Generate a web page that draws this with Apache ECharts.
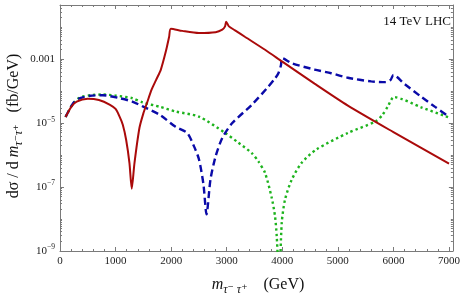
<!DOCTYPE html>
<html>
<head>
<meta charset="utf-8">
<script src="https://cdn.jsdelivr.net/npm/echarts@6/dist/echarts.min.js"></script>
<style>
html,body{margin:0;padding:0;background:#fff;}
#chart{width:463px;height:298px;}
</style>
</head>
<body>
<div id="chart"></div>
<script>
// ---- data ----
const redX = [100,200,300,500,700,900,1000,1070,1130,1190,1250,1291,1340,1430,1500,1560,1650,1730,1815,1905,1964,1995,2200,2500,2800,2920,2970,2990,3040,3150,3333,3690,4000,4580,5180,6000,7000];
const redY = [1.55e-5,3.16e-5,4.68e-5,5.75e-5,5.25e-5,3.72e-5,2.75e-5,1.62e-5,8.9e-6,3.0e-6,5.6e-7,8.9e-8,5.6e-7,7.1e-6,2.0e-5,4.0e-5,1.12e-4,2.24e-4,4.7e-4,1.74e-3,5.0e-3,8.9e-3,7.6e-3,6.5e-3,6.9e-3,8.3e-3,1.05e-2,1.48e-2,1.05e-2,7.9e-3,4.9e-3,1.95e-3,8.3e-4,1.7e-4,3.5e-5,5.2e-6,5.4e-7];

const blueX = [100,240,360,540,770,1070,1300,1490,1800,2080,2290,2410,2500,2580,2637,2708,2800,2920,3100,3450,3750,3870,3930,3975,4000,4170,4580,4880,5180,5600,5860,5950,6000,6200,6500,6750,7000];
const blueY = [1.55e-5,4.2e-5,6.0e-5,7.1e-5,7.4e-5,6.0e-5,4.7e-5,3.3e-5,1.78e-5,7.6e-6,4.9e-6,1.9e-6,7.4e-7,1.26e-7,1.4e-8,1.74e-7,9.1e-7,3.4e-6,1.0e-5,3.7e-5,1.38e-4,2.5e-4,3.6e-4,6.3e-4,1.07e-3,7.4e-4,4.7e-4,3.6e-4,2.6e-4,2.0e-4,1.9e-4,2.24e-4,3.2e-4,1.66e-4,6.6e-5,3.2e-5,1.58e-5];

const greenX = [100,240,360,540,770,1000,1300,1490,1800,2080,2500,2980,3200,3450,3570,3690,3810,3870,3900,3945,3990,4050,4170,4345,4610,5180,5680,5800,5900,6010,6500,7000];
const greenY = [1.55e-5,4.2e-5,6.3e-5,7.4e-5,7.8e-5,7.2e-5,6.0e-5,4.4e-5,3.2e-5,2.3e-5,1.58e-5,4.8e-6,2.5e-6,1.15e-6,6.3e-7,2.75e-7,4.6e-8,1.2e-8,2.9e-9,1e-10,7.6e-9,4.1e-8,1.7e-7,5.6e-7,1.48e-6,4.9e-6,1.12e-5,1.78e-5,3.3e-5,6.5e-5,3.1e-5,1.5e-5];

const xTickLabels = [0,1000,2000,3000,4000,5000,6000,7000];
const yTickExps = [-9,-7,-5,-3];

// ---- axis helpers ----
const X_MAX = 7070;
const Y_MIN_EXP = -9, Y_MAX_EXP = -1.31;
const xMinor = [];
for (let v = 200; v <= 7000; v += 200) if (v % 1000 !== 0) xMinor.push(v);
const yMinor = [];
for (let n = -9; n <= -2; n++) {
  if (n % 2 === 0) yMinor.push(n);
  for (let k = 2; k <= 9; k++) { const p = n + Math.log10(k); if (p <= Y_MAX_EXP) yMinor.push(p); }
}

const SERIF = '"Liberation Serif", "DejaVu Serif", serif';
const FRAME = '#7a7a7a';
const pairs = (xs, ys) => xs.map((x, i) => [x, ys[i]]);

function xAx(pos, values, len, withLabel, withLine) {
  return {
    type: 'value', position: pos, min: 0, max: X_MAX,
    axisLine: { show: withLine, onZero: false, lineStyle: { color: FRAME, width: 1 } },
    axisTick: { show: true, inside: true, length: len, customValues: values, lineStyle: { color: FRAME, width: 1 } },
    axisLabel: withLabel ? { show: true, customValues: values, margin: 5, fontFamily: SERIF, fontSize: 11, color: '#222',
      formatter: v => String(v) } : { show: false },
    splitLine: { show: false }
  };
}
function yAx(pos, values, len, withLabel, withLine) {
  return {
    type: 'value', position: pos, min: Y_MIN_EXP, max: Y_MAX_EXP,
    axisLine: { show: withLine, onZero: false, lineStyle: { color: FRAME, width: 1 } },
    axisTick: { show: true, inside: true, length: len, customValues: values, lineStyle: { color: FRAME, width: 1 } },
    axisLabel: withLabel ? {
      show: true, customValues: values, margin: 5, fontFamily: SERIF, fontSize: 11, color: '#222',
      formatter: v => v === -3 ? '0.001' : '{b|10}{p|\u2212' + (-v) + '}',
      rich: {
        b: { fontFamily: SERIF, fontSize: 11, color: '#222' },
        p: { fontFamily: SERIF, fontSize: 7.5, color: '#222', padding: [0, 0, 7, 0] }
      }
    } : { show: false },
    splitLine: { show: false }
  };
}

const titleRich = {
  i: { fontFamily: SERIF, fontStyle: 'italic', fontSize: 16, fill: '#111' },
  s: { fontFamily: SERIF, fontStyle: 'italic', fontSize: 12, fill: '#111', padding: [9, 0, 0, 0] },
  n: { fontFamily: SERIF, fontSize: 16, fill: '#111' }
};

const chart = echarts.init(document.getElementById('chart'), null, { renderer: 'canvas' });
chart.setOption({
  animation: false,
  backgroundColor: '#fff',
  grid: { left: 60, right: 7, top: 5, bottom: 47, containLabel: false },
  xAxis: [
    xAx('bottom', xTickLabels, 4, true, true),
    xAx('bottom', xMinor, 2, false, false),
    xAx('top', xTickLabels, 4, false, true),
    xAx('top', xMinor, 2, false, false)
  ],
  yAxis: [
    { type: 'log', min: 1e-9, max: Math.pow(10, Y_MAX_EXP), show: false, splitLine: { show: false } },
    yAx('left', yTickExps, 4, true, true),
    yAx('left', yMinor, 2, false, false),
    yAx('right', yTickExps, 4, false, true),
    yAx('right', yMinor, 2, false, false)
  ],
  series: [
    { type: 'line', name: 'green', xAxisIndex: 0, yAxisIndex: 0, data: pairs(greenX, greenY), showSymbol: false, smooth: 0.25, clip: true,
      lineStyle: { color: '#1db31d', width: 2.4, type: [2.4, 3] } },
    { type: 'line', name: 'blue', xAxisIndex: 0, yAxisIndex: 0, data: pairs(blueX, blueY), showSymbol: false, smooth: 0.25, clip: true,
      lineStyle: { color: '#0a0aa8', width: 2.4, type: [7, 4] } },
    { type: 'line', name: 'red', xAxisIndex: 0, yAxisIndex: 0, data: pairs(redX, redY), showSymbol: false, smooth: 0.25, clip: true,
      lineStyle: { color: '#aa0a0a', width: 2, type: 'solid' } }
  ],
  graphic: [
    { type: 'text', right: 12, top: 15, style: { text: '14 TeV LHC', font: '13px ' + SERIF, fill: '#111' } },
    { type: 'text', x: 258, y: 285, style: {
        text: '{i|m}{s|\u03c4\u207b \u03c4\u207a}{n|    (GeV)}', align: 'center', verticalAlign: 'middle',
        rich: titleRich } },
    { type: 'text', x: 14, y: 126, rotation: Math.PI / 2, style: {
        text: '{n|d\u03c3 / d }{i|m}{s|\u03c4\u207b\u03c4\u207a}{n|   (fb/GeV)}', align: 'center', verticalAlign: 'middle',
        rich: titleRich } }
  ]
});
</script>
</body>
</html>
